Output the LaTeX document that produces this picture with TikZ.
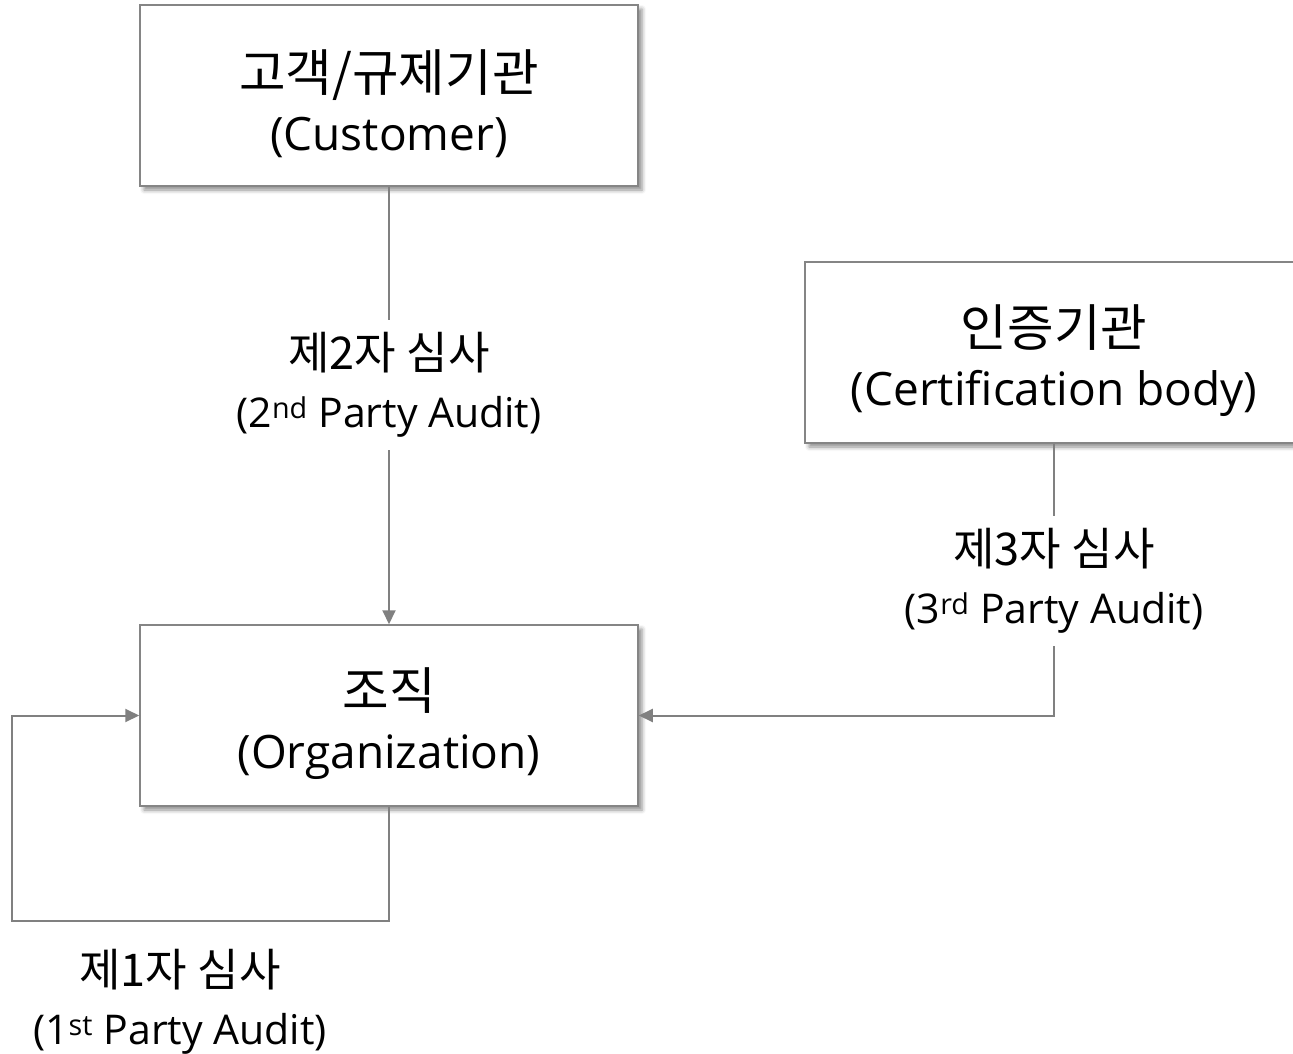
\documentclass[tikz,border=0pt]{standalone}
\usepackage{fontspec}
\setmainfont{Open Sans}
\newfontfamily\kr[Scale=1.1]{Noto Sans CJK KR}
\usetikzlibrary{arrows.meta,shadows.blur}

\definecolor{edgegray}{HTML}{858585}
\definecolor{linegray}{HTML}{808080}

% extra room above the first line of a box, to sit the text a little lower
\newcommand{\topgap}{\rule{0pt}{58pt}}

\tikzset{
  party/.style={draw=edgegray, line width=1.5pt, fill=white,
    minimum width=498pt, minimum height=181pt, align=center,
    font=\fontsize{46pt}{59pt}\selectfont,
    blur shadow={shadow xshift=4pt, shadow yshift=-4pt,
      shadow blur radius=4pt, shadow opacity=45}},
  auditlabel/.style={fill=white, align=center, inner sep=12pt,
    font=\fontsize{41pt}{58pt}\selectfont},
  flow/.style={draw=linegray, line width=2pt,
    -{Triangle[length=14pt,width=13pt]}},
}

\begin{document}
\begin{tikzpicture}[x=1pt, y=-1pt]
  \useasboundingbox (0,0) rectangle (1293,1054);

  % parties
  \node[party] (cust) at (389,95.5) {\topgap{\kr 고객/규제기관}\\(Customer)};
  \node[party] (org)  at (389,715.5) {\topgap{\kr 조직}\\(Organization)};
  \node[party] (cert) at (1054,352.5) {\topgap{\kr 인증기관}\\(Certification body)};

  % second party audit
  \draw[flow] (cust.south) -- (org.north);
  \node[auditlabel] (l2) at (389,385)
    {{\kr 제2자 심사}\\(2\textsuperscript{nd} Party Audit)};

  % third party audit
  \coordinate (c3) at (cert.south |- org.east);
  \draw[flow] (cert.south) -- (c3) -- (org.east);
  \node[auditlabel] (l3) at (1054,581)
    {{\kr 제3자 심사}\\(3\textsuperscript{rd} Party Audit)};

  % first party audit (loop back)
  \coordinate (b1) at (389,921);
  \coordinate (b2) at (12,921);
  \coordinate (b3) at (12,715.5);
  \draw[flow] (org.south) -- (b1) -- (b2) -- (b3) -- (org.west);
  \node[auditlabel, fill=none] (l1) at (180,1002)
    {{\kr 제1자 심사}\\(1\textsuperscript{st} Party Audit)};
\end{tikzpicture}
\end{document}
